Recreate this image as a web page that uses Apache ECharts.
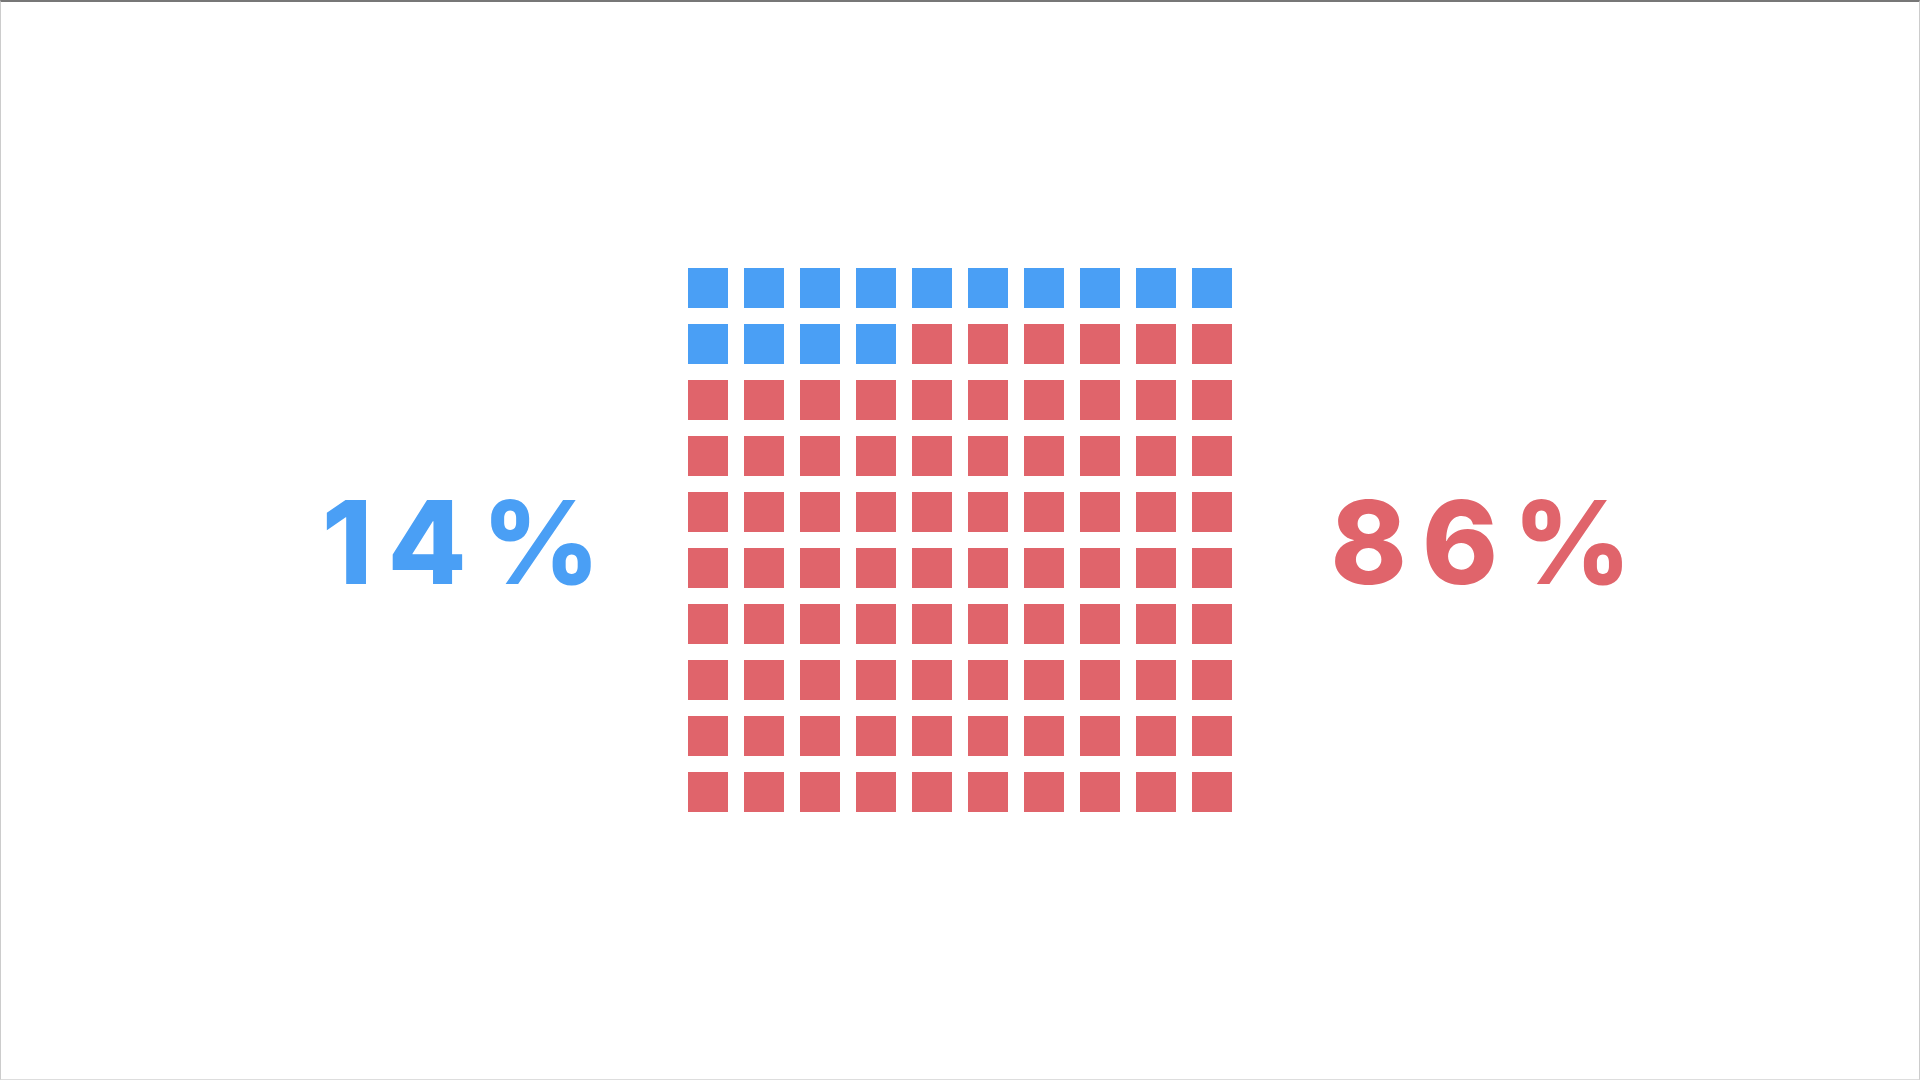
<!DOCTYPE html>
<html>
<head>
<meta charset="utf-8">
<script src="https://cdn.jsdelivr.net/npm/echarts@6/dist/echarts.min.js"></script>
<style>
html,body{margin:0;padding:0;background:#fff;}
#chart{width:1920px;height:1080px;box-sizing:border-box;border-top:2px solid #777;border-left:1px solid #ccc;border-right:1px solid #ccc;border-bottom:1px solid #ddd;}
</style>
</head>
<body>
<div id="chart"></div>
<script>
// Data
const groups = ['A', 'B'];
const counts = [14, 86];
const labels = ['14%', '86%'];
const colors = ['#4A9FF5', '#E0646B'];
const gridCols = 10;
const gridRows = 10;

// Build cells (row-major, top-left first)
const cellSeriesData = groups.map(() => []);
let idx = 0;
counts.forEach((c, g) => {
  for (let k = 0; k < c; k++) {
    const col = idx % gridCols;
    const row = Math.floor(idx / gridCols);
    cellSeriesData[g].push([col + 0.5, row + 0.5]);
    idx++;
  }
});

const FONT = '800 115px Inter';
const SPACING = 15;
const mctx = document.createElement('canvas').getContext('2d');
mctx.font = FONT;
function spacedText(str, cx, cy, color) {
  const chars = str.split('');
  const widths = chars.map(ch => mctx.measureText(ch).width);
  const total = widths.reduce((a, b) => a + b, 0) + SPACING * (chars.length - 1);
  let x = cx - total / 2;
  return chars.map((ch, i) => {
    const el = {
      type: 'text', x: x, y: cy,
      style: {text: ch, fill: color, font: FONT, textAlign: 'left', textVerticalAlign: 'middle'}
    };
    x += widths[i] + SPACING;
    return el;
  });
}

const chart = echarts.init(document.getElementById('chart'), null, {renderer: 'canvas'});
const option = {
  backgroundColor: '#ffffff',
  animation: false,
  grid: {left: 679, top: 258, width: 560, height: 560},
  xAxis: {type: 'value', min: 0, max: gridCols, show: false},
  yAxis: {type: 'value', min: 0, max: gridRows, inverse: true, show: false},
  series: groups.map((g, i) => ({
    name: g,
    type: 'scatter',
    symbol: 'rect',
    symbolSize: 40,
    itemStyle: {color: colors[i], opacity: 1},
    data: cellSeriesData[i]
  })),
  graphic: [].concat(
    spacedText(labels[0], 460, 547, colors[0]),
    spacedText(labels[1], 1480, 547, colors[1])
  )
};
chart.setOption(option);
</script>
</body>
</html>
